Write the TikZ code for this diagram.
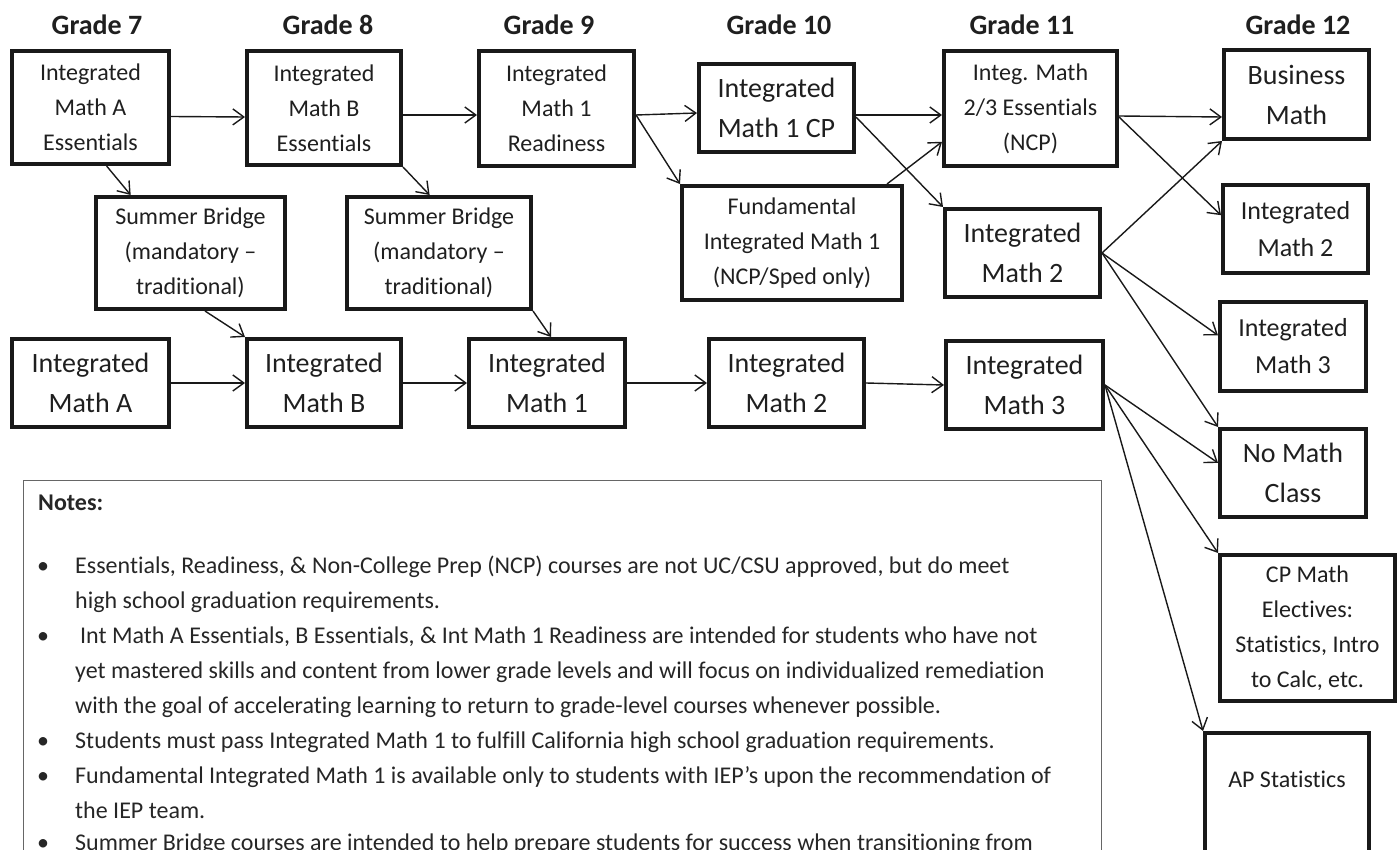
\documentclass[tikz,border=0pt]{standalone}
\usepackage{fontspec}
\setmainfont{Carlito}[Ligatures=NoCommon]
\usetikzlibrary{arrows.meta,calc}
\begin{document}
\begin{tikzpicture}[x=1pt,y=-1pt,
  box/.style={draw=black!90, line width=3.6pt, inner sep=0pt, align=center, text=black!88},
  fs/.style={font=\fontsize{24}{35}\selectfont},
  fm/.style={font=\fontsize{26}{37}\selectfont},
  fl/.style={font=\fontsize{28}{40}\selectfont},
  conn/.style={draw=black!90, line width=1.4pt, -{Straight Barb[length=11pt,width=16pt,line width=1.4pt]}},
  grade/.style={font=\fontsize{28}{32}\selectfont\bfseries, text=black!88},
  note/.style={font=\fontsize{24}{30}\selectfont, text=black!85, anchor=west, inner sep=0pt, text height=17pt, text depth=6pt}]
\useasboundingbox (0,0) rectangle (1398,850);

% grade headers
\node[grade] (g7) at (97,25) {Grade 7};
\node[grade] (g8) at (328,25) {Grade 8};
\node[grade] (g9) at (549,25) {Grade 9};
\node[grade] (g10) at (779,25) {Grade 10};
\node[grade] (g11) at (1022,25) {Grade 11};
\node[grade] (g12) at (1298,25) {Grade 12};

% boxes
\node[box,fs,minimum width=157.4pt,minimum height=113.4pt] (ae) at (90.5,107.5) {Integrated\\Math A\\Essentials};
\node[box,fs,minimum width=154.4pt,minimum height=114.4pt] (be) at (324,108) {Integrated\\Math B\\Essentials};
\node[box,fs,minimum width=155.4pt,minimum height=115.4pt] (m1r) at (556.5,108.5) {Integrated\\Math 1\\Readiness};
\node[box,fl,minimum width=155.4pt,minimum height=88.4pt] (m1cp) at (776.5,108) {Integrated\\Math 1 CP};
\node[box,fs,minimum width=173.4pt,minimum height=115.4pt] (ess) at (1030.5,108.5) {Integ. Math\\2/3 Essentials\\(NCP)};
\node[box,fl,minimum width=145.4pt,minimum height=89.4pt] (bm) at (1296.5,94.5) {Business\\Math};
\node[box,fs,minimum width=189.4pt,minimum height=112.4pt] (sb1) at (190.5,253) {Summer Bridge\\(mandatory –\\traditional)};
\node[box,fs,minimum width=184.4pt,minimum height=112.4pt] (sb2) at (439,253) {Summer Bridge\\(mandatory –\\traditional)};
\node[box,fs,minimum width=220.4pt,minimum height=114.4pt] (fim) at (792,243) {Fundamental\\Integrated Math 1\\(NCP/Sped only)};
\node[box,fl,minimum width=155.4pt,minimum height=88.4pt] (im2b) at (1022.5,253) {Integrated\\Math 2};
\node[box,fm,minimum width=145.4pt,minimum height=88.4pt] (im2c) at (1295.5,229) {Integrated\\Math 2};
\node[box,fm,minimum width=146.4pt,minimum height=89.4pt] (im3c) at (1293,346.5) {Integrated\\Math 3};
\node[box,fl,minimum width=157.4pt,minimum height=88.4pt] (ima) at (90.5,383) {Integrated\\Math A};
\node[box,fl,minimum width=154.4pt,minimum height=88.4pt] (imb) at (324,383) {Integrated\\Math B};
\node[box,fl,minimum width=156.4pt,minimum height=88.4pt] (im1) at (547,383) {Integrated\\Math 1};
\node[box,fl,minimum width=155.4pt,minimum height=88.4pt] (im2a) at (786.5,383) {Integrated\\Math 2};
\node[box,fl,minimum width=157.4pt,minimum height=88.4pt] (im3b) at (1024.5,385) {Integrated\\Math 3};
\node[box,fl,minimum width=146.4pt,minimum height=88.4pt] (nomath) at (1293,473) {No Math\\Class};
\node[box,fs,minimum width=175.4pt,minimum height=146.4pt] (cp) at (1307.5,628) {CP Math\\Electives:\\Statistics, Intro\\to Calc, etc.};
\node[box,fs,minimum width=164.4pt,text height=55pt,text depth=92pt,anchor=north west] (ap) at (1203,731) {AP Statistics};

% connectors
\draw[conn] ($(ae.east)+(0,9)$) -- ($(be.west)+(0,9)$);
\draw[conn] ($(be.east)+(0,7)$) -- ($(m1r.west)+(0,6.5)$);
\draw[conn] ($(m1r.east)+(0,6.5)$) -- ($(m1cp.west)+(0,5)$);
\draw[conn] ($(m1r.east)+(0,6.5)$) -- (fim.north west);
\draw[conn] ($(m1cp.east)+(0,7)$) -- ($(ess.west)+(0,6.5)$);
\draw[conn] ($(m1cp.east)+(0,9)$) -- (im2b.north west);
\draw[conn] ($(fim.north west)!0.924!(fim.north east)$) -- ($(ess.north west)!0.78!(ess.south west)$);
\draw[conn] ($(ess.east)+(0,7.5)$) -- ($(bm.west)+(0,22.5)$);
\draw[conn] ($(ess.east)+(0,8.5)$) -- ($(im2c.north west)!0.35!(im2c.south west)$);
\draw[conn] (im2b.east) -- (bm.south west);
\draw[conn] (im2b.east) -- ($(im3c.north west)!0.38!(im3c.south west)$);
\draw[conn] (im2b.east) -- (nomath.north west);
\draw[conn] ($(ae.south west)!0.6!(ae.south east)$) -- ($(sb1.north west)!0.19!(sb1.north east)$);
\draw[conn] (be.south east) -- ($(sb2.north west)!0.45!(sb2.north east)$);
\draw[conn] ($(sb1.south west)!0.575!(sb1.south east)$) -- (imb.north west);
\draw[conn] (sb2.south east) -- ($(im1.north west)!0.525!(im1.north east)$);
\draw[conn] (ima.east) -- (imb.west);
\draw[conn] (imb.east) -- (im1.west);
\draw[conn] (im1.east) -- (im2a.west);
\draw[conn] (im2a.east) -- (im3b.west);
\draw[conn] (im3b.east) -- ($(nomath.north west)!0.39!(nomath.south west)$);
\draw[conn] (im3b.east) -- (cp.north west);
\draw[conn] (im3b.east) -- (ap.north west);

% notes
\node[draw=black!60, line width=1.3pt, minimum width=1078pt, minimum height=420pt, anchor=north west, inner sep=0pt] (notes) at (23,480) {};
\node[note, font=\fontsize{24}{30}\selectfont\bfseries] (nt) at (38,505) {Notes:};
\node[note] (b1) at (37,568) {•};
\node[note] (l1) at (75,568) {Essentials, Readiness, \& Non-College Prep (NCP) courses are not UC/CSU approved, but do meet};
\node[note] (l2) at (75,603) {high school graduation requirements.};
\node[note] (b2) at (37,638) {•};
\node[note] (l3) at (75,638) {\hspace*{5pt}Int Math A Essentials, B Essentials, \& Int Math 1 Readiness are intended for students who have not};
\node[note] (l4) at (75,673) {yet mastered skills and content from lower grade levels and will focus on individualized remediation};
\node[note] (l5) at (75,708) {with the goal of accelerating learning to return to grade-level courses whenever possible.};
\node[note] (b3) at (37,743) {•};
\node[note] (l6) at (75,743) {Students must pass Integrated Math 1 to fulfill California high school graduation requirements.};
\node[note] (b4) at (37,778) {•};
\node[note] (l7) at (75,778) {Fundamental Integrated Math 1 is available only to students with IEP’s upon the recommendation of};
\node[note] (l8) at (75,813) {the IEP team.};
\node[note] (b5) at (37,845) {•};
\node[note] (l9) at (75,845) {Summer Bridge courses are intended to help prepare students for success when transitioning from};
\end{tikzpicture}
\end{document}
